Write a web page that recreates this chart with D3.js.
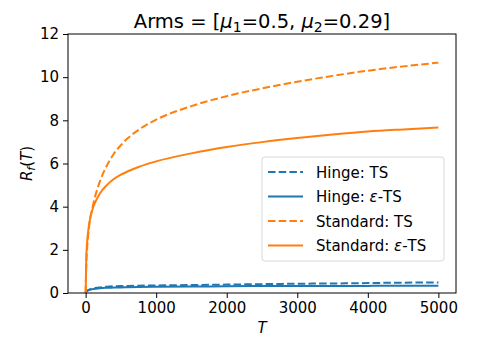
<!DOCTYPE html>
<html>
<head>
<meta charset="UTF-8">
<script src="https://d3js.org/d3.v7.min.js"></script>
<style>
  body { margin: 0; background: #fff; }
  svg text { font-family: "DejaVu Sans", sans-serif; fill: #000; }
</style>
</head>
<body>
<div id="chart"></div>
<script>
// horizon values (shared by all series)
var T = [0, 10, 20, 50, 100, 150, 200, 300, 400, 500, 600, 750, 1000, 1500, 2000, 2500, 3000, 3500, 4000, 4500, 5000];

var hingeTS     = [0, 0.07, 0.10, 0.16, 0.21, 0.24, 0.26, 0.29, 0.31, 0.32, 0.33, 0.34, 0.35, 0.37, 0.39, 0.41, 0.43, 0.44, 0.46, 0.48, 0.49];
var hingeEpsTS  = [0, 0.06, 0.09, 0.14, 0.18, 0.20, 0.22, 0.24, 0.25, 0.26, 0.27, 0.28, 0.29, 0.30, 0.31, 0.32, 0.32, 0.33, 0.33, 0.34, 0.34];
var standardTS  = [0, 1.4, 2.0, 3.1, 4.0, 4.65, 5.15, 5.9, 6.45, 6.85, 7.18, 7.56, 8.03, 8.66, 9.12, 9.48, 9.79, 10.06, 10.3, 10.5, 10.67];
var standardEps = [0, 1.7, 2.3, 3.2, 3.9, 4.3, 4.6, 5.0, 5.28, 5.48, 5.64, 5.84, 6.1, 6.47, 6.76, 6.99, 7.18, 7.34, 7.48, 7.58, 7.67];

var xTicks = [0, 1000, 2000, 3000, 4000, 5000];
var yTicks = [0, 2, 4, 6, 8, 10, 12];

var series = [
  {name: "Hinge: TS",       values: hingeTS,     color: "#1f77b4", dash: true},
  {name: "Hinge: ε-TS",     values: hingeEpsTS,  color: "#1f77b4", dash: false},
  {name: "Standard: TS",    values: standardTS,  color: "#ff7f0e", dash: true},
  {name: "Standard: ε-TS",  values: standardEps, color: "#ff7f0e", dash: false}
];

var width = 479, height = 347;
var margin = {left: 68, right: 456, top: 34, bottom: 293};

var svg = d3.select("#chart").append("svg")
    .attr("width", width)
    .attr("height", height);

var x = d3.scaleLinear().domain([-250, 5250]).range([margin.left, margin.right]);
var y = d3.scaleLinear().domain([0, 12]).range([margin.bottom, margin.top]);

var line = d3.line()
    .x(function(d) { return x(d[0]); })
    .y(function(d) { return y(d[1]); })
    .curve(d3.curveMonotoneX);

var plot = svg.append("g");
series.forEach(function(s) {
    plot.append("path")
        .datum(T.map(function(t, i) { return [t, s.values[i]]; }))
        .attr("d", line)
        .attr("fill", "none")
        .attr("stroke", s.color)
        .attr("stroke-width", 2)
        .attr("stroke-dasharray", s.dash ? "7.5,3.2" : null);
});

// axes
var xaxis = d3.axisBottom(x).tickValues(xTicks).tickFormat(d3.format("d")).tickSize(5).tickPadding(4);
var yaxis = d3.axisLeft(y).tickValues(yTicks).tickFormat(d3.format("d")).tickSize(5).tickPadding(4);

var gx = svg.append("g").attr("transform", "translate(0," + margin.bottom + ")").call(xaxis);
var gy = svg.append("g").attr("transform", "translate(" + margin.left + ",0)").call(yaxis);
[gx, gy].forEach(function(g) {
    g.select(".domain").remove();
    g.selectAll("text").style("font-size", "15px").style("font-family", "DejaVu Sans");
    g.selectAll("line").attr("stroke", "#000");
});

// frame
svg.append("rect")
    .attr("x", margin.left).attr("y", margin.top)
    .attr("width", margin.right - margin.left).attr("height", margin.bottom - margin.top)
    .attr("fill", "none").attr("stroke", "#000").attr("stroke-width", 1);

// title
var title = svg.append("text")
    .attr("x", (margin.left + margin.right) / 2).attr("y", 28)
    .attr("text-anchor", "middle")
    .style("font-size", "19.5px");
title.append("tspan").text("Arms = [");
title.append("tspan").style("font-style", "italic").text("μ");
title.append("tspan").attr("dy", 4).style("font-size", "14px").text("1");
title.append("tspan").attr("dy", -4).text("=0.5, ");
title.append("tspan").style("font-style", "italic").text("μ");
title.append("tspan").attr("dy", 4).style("font-size", "14px").text("2");
title.append("tspan").attr("dy", -4).text("=0.29]");

// axis labels
svg.append("text")
    .attr("x", (margin.left + margin.right) / 2).attr("y", 333)
    .attr("text-anchor", "middle")
    .style("font-size", "15px").style("font-style", "italic")
    .text("T");

var yl = svg.append("text")
    .attr("transform", "translate(32," + ((margin.top + margin.bottom) / 2) + ") rotate(-90)")
    .attr("text-anchor", "middle")
    .style("font-size", "15px");
yl.append("tspan").style("font-style", "italic").text("R");
yl.append("tspan").attr("dy", 3).style("font-size", "11px").style("font-style", "italic").text("f");
yl.append("tspan").attr("dy", -3).text("(");
yl.append("tspan").style("font-style", "italic").text("T");
yl.append("tspan").text(")");

// legend
var lg = svg.append("g").attr("transform", "translate(262,157)");
lg.append("rect")
    .attr("width", 182).attr("height", 104)
    .attr("rx", 3)
    .attr("fill", "#fff").attr("fill-opacity", 0.8)
    .attr("stroke", "#d9d9d9");
series.forEach(function(s, i) {
    var ry = 15 + i * 24.5;
    lg.append("line")
        .attr("x1", 6).attr("x2", 41)
        .attr("y1", ry).attr("y2", ry)
        .attr("stroke", s.color).attr("stroke-width", 2)
        .attr("stroke-dasharray", s.dash ? "7.5,3.2" : null);
    var t = lg.append("text")
        .attr("x", 54).attr("y", ry + 5.5)
        .style("font-size", "15px");
    var parts = s.name.split("ε");
    t.append("tspan").text(parts[0]);
    if (parts.length > 1) {
        t.append("tspan").style("font-style", "italic").text("ε");
        t.append("tspan").text(parts[1]);
    }
});
</script>
</body>
</html>
